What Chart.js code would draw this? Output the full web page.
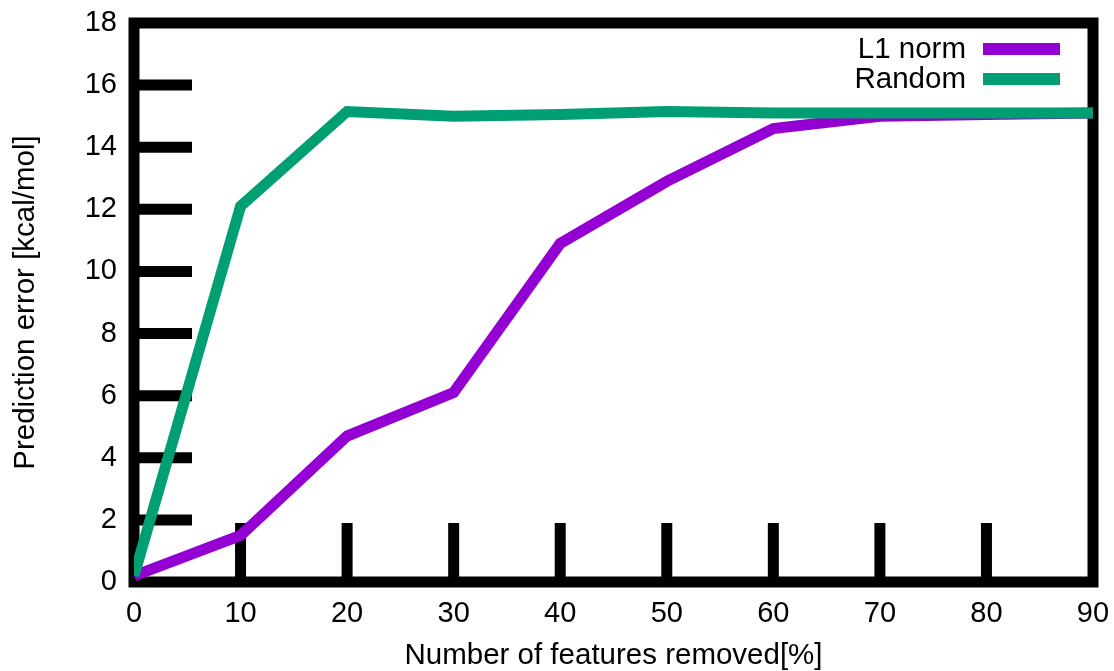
<!DOCTYPE html>
<html>
<head>
<meta charset="utf-8">
<script src="https://cdn.jsdelivr.net/npm/chart.js@4"></script>
<style>
  body { margin: 0; background: #fff; }
</style>
</head>
<body>
<canvas id="myChart" width="1114" height="671"></canvas>
<script>
// valores
const removed = [0, 10, 20, 30, 40, 50, 60, 70, 80, 90];
const l1Norm = [0.2, 1.5, 4.7, 6.1, 10.9, 12.9, 14.6, 15.0, 15.05, 15.1];
const randomSel = [0.2, 12.1, 15.15, 15.0, 15.05, 15.15, 15.1, 15.1, 15.1, 15.1];
const yTicks = [0, 2, 4, 6, 8, 10, 12, 14, 16, 18];
const xTicks = [0, 10, 20, 30, 40, 50, 60, 70, 80, 90];

const FONT = 'Liberation Sans, Arial, sans-serif';

const toPoints = (ys) => ys.map((y, i) => ({ x: removed[i], y: y }));

// marco grueso y marcas hacia dentro, estilo gnuplot
const framePlugin = {
  id: 'frame',
  beforeDatasetsDraw(chart) {
    const { ctx, chartArea: a, scales } = chart;
    ctx.save();
    ctx.strokeStyle = '#000';
    ctx.lineWidth = 11;
    ctx.lineCap = 'butt';
    // marcas eje y
    yTicks.slice(1, -1).forEach(v => {
      const y = scales.y.getPixelForValue(v);
      ctx.beginPath();
      ctx.moveTo(a.left, y);
      ctx.lineTo(a.left + 58, y);
      ctx.stroke();
    });
    // marcas eje x
    xTicks.slice(1, -1).forEach(v => {
      const x = scales.x.getPixelForValue(v);
      ctx.beginPath();
      ctx.moveTo(x, a.bottom);
      ctx.lineTo(x, a.bottom - 59);
      ctx.stroke();
    });
    ctx.lineJoin = 'miter';
    ctx.strokeRect(a.left, a.top, a.right - a.left, a.bottom - a.top);
    ctx.restore();
  },
  afterDraw(chart) {
    // leyenda dentro del area, arriba a la derecha
    const { ctx } = chart;
    ctx.save();
    ctx.font = '29.5px ' + FONT;
    ctx.textAlign = 'right';
    ctx.textBaseline = 'middle';
    const order = [1, 0];
    order.forEach((di, row) => {
      const ds = chart.data.datasets[di];
      const y = 49 + row * 30;
      ctx.fillStyle = '#000';
      ctx.fillText(ds.label, 966, y + 1);
      ctx.strokeStyle = ds.borderColor;
      ctx.lineWidth = 12;
      ctx.beginPath();
      ctx.moveTo(983, y);
      ctx.lineTo(1060, y);
      ctx.stroke();
    });
    ctx.restore();
  }
};

const ctx1 = document.getElementById('myChart').getContext('2d');
new Chart(ctx1, {
  type: 'line',
  data: {
    datasets: [{
      label: 'Random',
      data: toPoints(randomSel),
      borderColor: '#009e73',
      borderWidth: 11,
      pointRadius: 0,
      tension: 0,
      order: 0
    }, {
      label: 'L1 norm',
      data: toPoints(l1Norm),
      borderColor: '#9400d3',
      borderWidth: 11,
      pointRadius: 0,
      tension: 0,
      order: 1
    }]
  },
  options: {
    responsive: false,
    animation: false,
    events: [],
    layout: { padding: { top: 23, right: 21, left: 0, bottom: 0 } },
    plugins: {
      legend: { display: false },
      tooltip: { enabled: false }
    },
    scales: {
      x: {
        type: 'linear',
        min: 0,
        max: 90,
        afterBuildTicks: (s) => { s.ticks = xTicks.map(v => ({ value: v })); },
        afterFit: (s) => { s.height = 89; s.paddingLeft = 0; s.paddingRight = 0; },
        grid: { display: false, drawTicks: false },
        border: { display: false },
        ticks: { color: '#000', font: { family: FONT, size: 29 }, padding: 15, maxRotation: 0 },
        title: {
          display: true,
          text: 'Number of features removed[%]',
          color: '#000',
          font: { family: FONT, size: 29.5, lineHeight: 1 },
          padding: { top: 0, bottom: 0 }
        }
      },
      y: {
        min: 0,
        max: 18,
        afterBuildTicks: (s) => { s.ticks = yTicks.map(v => ({ value: v })); },
        afterFit: (s) => { s.width = 134; s.paddingTop = 0; s.paddingBottom = 0; },
        grid: { display: false, drawTicks: false },
        border: { display: false },
        ticks: { color: '#000', font: { family: FONT, size: 29 }, padding: 17 },
        title: {
          display: true,
          text: 'Prediction error [kcal/mol]',
          color: '#000',
          font: { family: FONT, size: 29.5 },
          padding: { top: 8, bottom: 0 }
        }
      }
    }
  },
  plugins: [framePlugin]
});
</script>
</body>
</html>
